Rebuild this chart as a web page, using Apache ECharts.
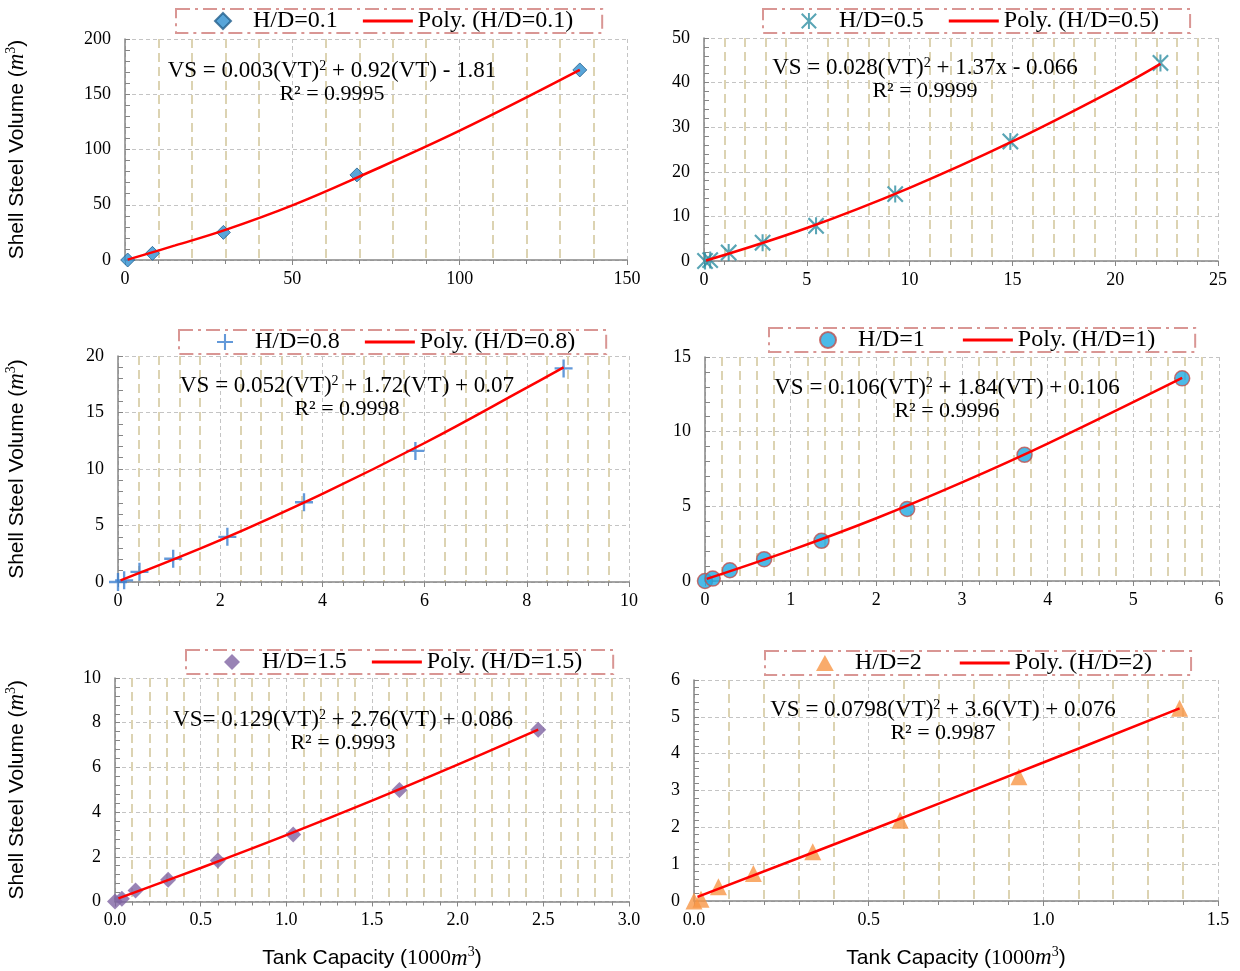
<!DOCTYPE html>
<html>
<head>
<meta charset="utf-8">
<script src="https://cdn.jsdelivr.net/npm/echarts@6/dist/echarts.min.js"></script>
<style>
  html, body { margin: 0; padding: 0; background: #fff; }
  #main { width: 1240px; height: 971px; }
</style>
</head>
<body>
<div id="main"></div>
<script>
// H/D = 0.1
const hd01X = [0.8, 8.2, 29.4, 69.3, 135.9]
const hd01Y = [0, 6, 25, 77, 172]
const fit01X = [0.8, 15, 30, 50, 70, 100, 135.9]
const fit01Y = [0.3, 13.2, 27.3, 49.5, 75.5, 117, 172]

// H/D = 0.5
const hd05X = [0.05, 0.3, 1.2, 2.85, 5.45, 9.3, 14.9, 22.2]
const hd05Y = [0, 0.2, 1.9, 4.1, 7.9, 15.0, 26.8, 44.4]
const fit05X = [0.1, 5, 10, 15, 20, 22.2]
const fit05Y = [0.1, 7.4, 16.4, 26.8, 38.5, 44.2]

// H/D = 0.8
const hd08X = [0, 0.12, 0.42, 1.08, 2.14, 3.64, 5.82, 8.72]
const hd08Y = [0, 0.15, 0.9, 2.06, 4.0, 7.06, 11.6, 18.9]
const fit08X = [0.05, 2, 4, 6, 8, 8.72]
const fit08Y = [0.15, 3.7, 7.8, 12.3, 17.2, 19.0]

// H/D = 1
const hd1X = [0, 0.09, 0.29, 0.69, 1.36, 2.36, 3.73, 5.57]
const hd1Y = [0, 0.16, 0.72, 1.46, 2.69, 4.82, 8.45, 13.57]
const fit1X = [0.02, 1, 2, 3, 4, 5.57]
const fit1Y = [0.14, 2.05, 4.2, 6.6, 9.2, 13.6]

// H/D = 1.5
const hd15X = [0, 0.04, 0.12, 0.31, 0.6, 1.04, 1.66, 2.47]
const hd15Y = [0, 0.12, 0.49, 0.97, 1.83, 3.0, 4.99, 7.69]
const fit15X = [0.02, 0.5, 1, 1.5, 2, 2.47]
const fit15Y = [0.14, 1.5, 2.97, 4.51, 6.12, 7.69]

// H/D = 2
const hd2X = [0, 0.02, 0.07, 0.17, 0.34, 0.59, 0.93, 1.39]
const hd2Y = [0, 0.05, 0.39, 0.75, 1.34, 2.19, 3.37, 5.23]
const fit2X = [0.01, 0.5, 1, 1.39]
const fit2Y = [0.11, 1.9, 3.76, 5.23]

const labels = ['H/D=0.1', 'H/D=0.5', 'H/D=0.8', 'H/D=1', 'H/D=1.5', 'H/D=2']
const equations = [
  ['VS = 0.003(VT)', ' + 0.92(VT) - 1.81', 'R² = 0.9995'],
  ['VS = 0.028(VT)', ' + 1.37x - 0.066', 'R² = 0.9999'],
  ['VS = 0.052(VT)', ' + 1.72(VT) + 0.07', 'R² = 0.9998'],
  ['VS = 0.106(VT)', ' + 1.84(VT) + 0.106', 'R² = 0.9996'],
  ['VS= 0.129(VT)', ' + 2.76(VT) + 0.086', 'R² = 0.9993'],
  ['VS = 0.0798(VT)', ' + 3.6(VT) + 0.076', 'R² = 0.9987']
]

const SERIF = '"Liberation Serif", "DejaVu Serif", serif'
const SANS = '"Liberation Sans", Arial, sans-serif'

const starPath = 'path://M-1.2,-10L1.2,-10L1.2,10L-1.2,10Z M-8.1,-9.9L9.9,8.1L8.1,9.9L-9.9,-8.1Z M-9.9,8.1L8.1,-9.9L9.9,-8.1L-8.1,9.9Z'
const plusPath = 'path://M-1.3,-10L1.3,-10L1.3,-1.3L10,-1.3L10,1.3L1.3,1.3L1.3,10L-1.3,10L-1.3,1.3L-10,1.3L-10,-1.3L-1.3,-1.3Z'
const diamondPath = 'path://M0,-10L10,0L0,10L-10,0Z'
const circlePath = 'path://M-10,0A10,10,0,1,1,10,0A10,10,0,1,1,-10,0Z'
const trianglePath = 'path://M0,-10L10,8L-10,8Z'
const linePath = 'path://M0,0L50,0L50,3L0,3Z'

// legend pad: [left padding, gap between items, right padding]
const panels = [
  { x: hd01X, y: hd01Y, fx: fit01X, fy: fit01Y, grid: [125, 39, 502, 221], xmax: 150, xint: 50, ymax: 200, yint: 50,
    symbol: 'diamond', icon: diamondPath, size: 14, style: { color: '#2e8fd0', borderColor: '#235f8c', borderWidth: 1 },
    legend: [176, 9], pad: [38, 25, 29], eq: [332, 71], dec: 0 },
  { x: hd05X, y: hd05Y, fx: fit05X, fy: fit05Y, grid: [704, 38, 514, 223], xmax: 25, xint: 5, ymax: 50, yint: 10,
    symbol: starPath, icon: starPath, size: 17, style: { color: '#2f8fa2' },
    legend: [763, 9], pad: [38, 25, 31], eq: [925, 68], dec: 0 },
  { x: hd08X, y: hd08Y, fx: fit08X, fy: fit08Y, grid: [118, 356, 511, 226], xmax: 10, xint: 2, ymax: 20, yint: 5,
    symbol: plusPath, icon: plusPath, size: 18, style: { color: '#3c7fd0' },
    legend: [179, 330], pad: [38, 25, 31], eq: [347, 386], dec: 0 },
  { x: hd1X, y: hd1Y, fx: fit1X, fy: fit1Y, grid: [705, 357, 514, 224], xmax: 6, xint: 1, ymax: 15, yint: 5,
    symbol: 'circle', icon: circlePath, size: 15, style: { color: '#1ea9e2', borderColor: '#c0504d', borderWidth: 1.5 },
    legend: [769, 328], pad: [50, 38, 40], eq: [947, 388], dec: 0 },
  { x: hd15X, y: hd15Y, fx: fit15X, fy: fit15Y, grid: [115, 678, 514, 225], xmax: 3, xint: 0.5, ymax: 10, yint: 2,
    symbol: 'diamond', icon: diamondPath, size: 16, style: { color: '#8064a2' },
    legend: [186, 650], pad: [38, 25, 31], eq: [343, 720], dec: 1 },
  { x: hd2X, y: hd2Y, fx: fit2X, fy: fit2Y, grid: [694, 680, 524, 221], xmax: 1.5, xint: 0.5, ymax: 6, yint: 1,
    symbol: 'triangle', icon: trianglePath, size: 17, style: { color: '#f79646' },
    legend: [765, 651], pad: [51, 38, 39], eq: [943, 710], dec: 1 }
]

const nameRich = {
  a: { fontFamily: SANS, fontSize: 21, color: '#000', lineHeight: 26 },
  n: { fontFamily: SERIF, fontSize: 22, color: '#000', lineHeight: 26 },
  m: { fontFamily: SERIF, fontStyle: 'italic', fontSize: 23, color: '#000', lineHeight: 26 },
  s: { fontFamily: SERIF, fontSize: 14, color: '#000', verticalAlign: 'top', lineHeight: 26 }
}

const grid = [], xAxis = [], yAxis = [], series = [], legend = [], graphic = []

panels.forEach((p, i) => {
  const fitName = 'Poly. (' + labels[i] + ')'
  grid.push({ left: p.grid[0], top: p.grid[1], width: p.grid[2], height: p.grid[3] })

  xAxis.push({
    gridIndex: i, type: 'value', min: 0, max: p.xmax, interval: p.xint,
    name: i >= 4 ? '{a|Tank Capacity (}{n|1000}{m|m}{s|3}{a|)}' : '',
    nameLocation: 'middle', nameGap: 44,
    nameTextStyle: { rich: nameRich },
    axisLine: { lineStyle: { color: '#868686', width: 1.5 } },
    axisTick: { show: true, length: 5, lineStyle: { color: '#868686' } },
    minorTick: { show: true, splitNumber: 5, length: 4, lineStyle: { color: '#868686' } },
    splitLine: { show: true, lineStyle: { color: '#c4c4c4', type: [4, 3] } },
    minorSplitLine: { show: true, lineStyle: { color: '#dcd3b2', type: [9, 5], width: 2 } },
    axisLabel: {
      fontFamily: SERIF, fontSize: 18, color: '#000', margin: 10,
      formatter: v => v.toFixed(p.dec)
    }
  })

  yAxis.push({
    gridIndex: i, type: 'value', min: 0, max: p.ymax, interval: p.yint,
    name: i % 2 === 0 ? '{a|Shell Steel Volume (}{m|m}{s|3}{a|)}' : '',
    nameLocation: 'middle', nameGap: p.grid[0] - 30, nameRotate: 90,
    nameTextStyle: { rich: nameRich },
    axisLine: { show: true, lineStyle: { color: '#868686', width: 1.5 } },
    axisTick: { show: true, inside: true, length: 5, lineStyle: { color: '#868686' } },
    minorTick: { show: true, splitNumber: 5, length: 5, lineStyle: { color: '#868686' } },
    splitLine: { show: true, lineStyle: { color: '#c4c4c4', type: [4, 3] } },
    axisLabel: { fontFamily: SERIF, fontSize: 18, color: '#000', margin: 14 }
  })

  series.push({
    name: labels[i], type: 'scatter', xAxisIndex: i, yAxisIndex: i,
    symbol: p.symbol, symbolSize: p.size, symbolKeepAspect: true,
    itemStyle: p.style, z: 2,
    data: p.x.map((v, k) => [v, p.y[k]])
  })
  series.push({
    name: fitName, type: 'line', xAxisIndex: i, yAxisIndex: i,
    smooth: 0.4, symbol: 'none', z: 3,
    lineStyle: { color: '#ff0000', width: 2.5 },
    itemStyle: { color: '#ff0000' },
    data: p.fx.map((v, k) => [v, p.fy[k]])
  })

  legend.push({
    left: p.legend[0], top: p.legend[1], orient: 'horizontal',
    data: [{ name: labels[i], icon: p.icon }, { name: fitName, icon: linePath }],
    symbolKeepAspect: true,
    itemWidth: 50, itemHeight: 16, itemGap: p.pad[1],
    padding: [0, p.pad[2], 0, p.pad[0]],
    borderColor: '#d99694', borderWidth: 2, borderType: [14, 5, 3, 5],
    textStyle: { fontFamily: SERIF, fontSize: 24, color: '#000' }
  })

  const eq = equations[i]
  graphic.push({
    type: 'text', x: p.eq[0], y: p.eq[1], z: 10,
    style: {
      text: '{t|' + eq[0] + '}{s|2}{t|' + eq[1] + '}',
      align: 'center', verticalAlign: 'middle',
      rich: {
        t: { fontFamily: SERIF, fontSize: 23, fill: '#000', lineHeight: 24 },
        s: { fontFamily: SERIF, fontSize: 14, fill: '#000', verticalAlign: 'top', lineHeight: 24 }
      }
    }
  })
  graphic.push({
    type: 'text', x: p.eq[0], y: p.eq[1] + 23, z: 10,
    style: {
      text: eq[2], align: 'center', verticalAlign: 'middle',
      font: '22px ' + SERIF, fill: '#000'
    }
  })
})

const chart = echarts.init(document.getElementById('main'))
chart.setOption({
  animation: false,
  backgroundColor: '#fff',
  grid, xAxis, yAxis, series, legend, graphic
})
</script>
</body>
</html>
